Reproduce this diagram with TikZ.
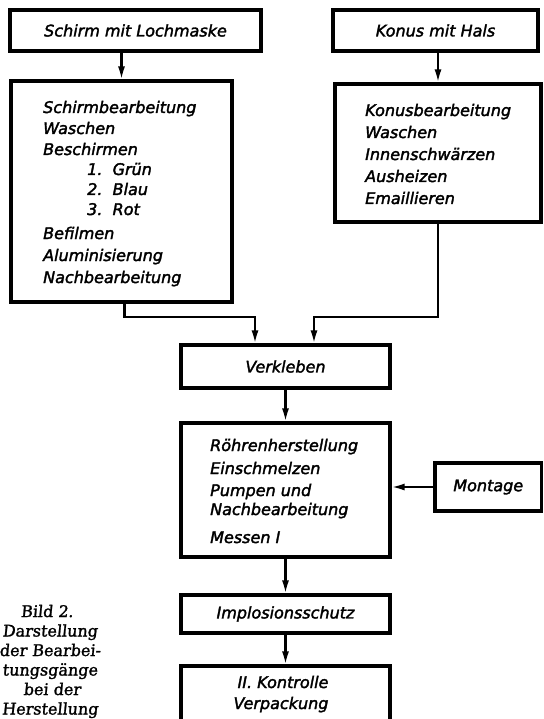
\documentclass[tikz,border=0pt]{standalone}
\usepackage{fontspec}
\newfontfamily\boxfont[FakeBold=2]{DejaVu Sans}
\newfontfamily\capfont[FakeBold=1.5,FakeSlant=0.1]{DejaVu Serif}
\usetikzlibrary{arrows.meta}
\begin{document}
\begin{tikzpicture}[x=1pt,y=-1pt,
  box/.style={draw, line width=3.2pt, rectangle, inner sep=0pt,
    font={\boxfont\itshape\fontsize{16}{19}\selectfont}},
  txt/.style={anchor=base west, inner sep=0pt,
    font={\boxfont\itshape\fontsize{16}{19}\selectfont}},
  ctxt/.style={anchor=base, inner sep=0pt,
    font={\boxfont\itshape\fontsize{16}{19}\selectfont}},
  captxt/.style={anchor=base, inner sep=0pt,
    font={\capfont\fontsize{16}{20}\selectfont}},
  conn/.style={line width=2.1pt, -{Latex[length=13pt,width=7pt]}}]
\useasboundingbox (0,0) rectangle (543,719);
\clip (0,0) rectangle (543,719);
\fill[white] (0,0) rectangle (543,719);

% boxes
\node[box, minimum width=251pt, minimum height=41pt] (A) at (135.5,30.5) {Schirm mit Lochmaske};
\node[box, minimum width=221pt, minimum height=221pt] (B) at (121.5,191.5) {};
\node[box, minimum width=205pt, minimum height=41pt] (C) at (435.5,30.5) {Konus mit Hals};
\node[box, minimum width=206pt, minimum height=138pt] (D) at (438,153) {};
\node[box, minimum width=209pt, minimum height=43pt] (E) at (285.5,366.5) {Verkleben};
\node[box, minimum width=209pt, minimum height=134pt] (F) at (285.5,490) {};
\node[box, minimum width=106.5pt, minimum height=48pt] (G) at (488.25,487) {Montage};
\node[box, minimum width=209pt, minimum height=38pt] (H) at (285.5,614) {Implosionsschutz};
\node[box, minimum width=209pt, minimum height=59pt] (I) at (285.5,695.5) {};

% texts of B
\node[txt] (b1) at (43,113) {Schirmbearbeitung};
\node[txt] (b2) at (43,134) {Waschen};
\node[txt] (b3) at (43,155) {Beschirmen};
\node[txt] (b4) at (87,175) {1.\ \ Grün};
\node[txt] (b5) at (87,195) {2.\ \ Blau};
\node[txt] (b6) at (87,215) {3.\ \ Rot};
\node[txt] (b7) at (43,239) {Befilmen};
\node[txt] (b8) at (43,261) {Aluminisierung};
\node[txt] (b9) at (43,283) {Nachbearbeitung};

% texts of D
\node[txt] (d1) at (365,116) {Konusbearbeitung};
\node[txt] (d2) at (365,138) {Waschen};
\node[txt] (d3) at (365,160) {Innenschwärzen};
\node[txt] (d4) at (365,182) {Ausheizen};
\node[txt] (d5) at (365,204) {Emaillieren};

% texts of F
\node[txt] (f1) at (210,451) {Röhrenherstellung};
\node[txt] (f2) at (210,474) {Einschmelzen};
\node[txt] (f3) at (210,496) {Pumpen und};
\node[txt] (f4) at (210,515) {Nachbearbeitung};
\node[txt] (f5) at (210,543) {Messen I};

% texts of I
\node[ctxt] (i1) at (283,688) {II. Kontrolle};
\node[ctxt] (i2) at (281,709) {Verpackung};

% caption
\node[captxt] (c1) at (47,617) {Bild 2.};
\node[captxt] (c2) at (50,636.5) {Darstellung};
\node[captxt] (c3) at (50,656) {der Bearbei-};
\node[captxt] (c4) at (50,675.5) {tungsgänge};
\node[captxt] (c5) at (52,695) {bei der};
\node[captxt] (c6) at (50,714.5) {Herstellung};

% connectors
\coordinate (jl) at (255,317);
\coordinate (jr) at (314,317);
\draw[conn] (A.south -| B.north) -- (B.north);
\draw[conn] (C.south -| D.north) -- (D.north);
\draw[conn] ([xshift=3pt]B.south) |- (jl) -- (jl |- E.north);
\draw[conn] (D.south) |- (jr) -- (jr |- E.north);
\draw[conn] (E.south) -- (F.north);
\draw[conn] (G.west) -- (G.west -| F.east);
\draw[conn] (F.south) -- (H.north);
\draw[conn] (H.south) -- (I.north);
\end{tikzpicture}
\end{document}
